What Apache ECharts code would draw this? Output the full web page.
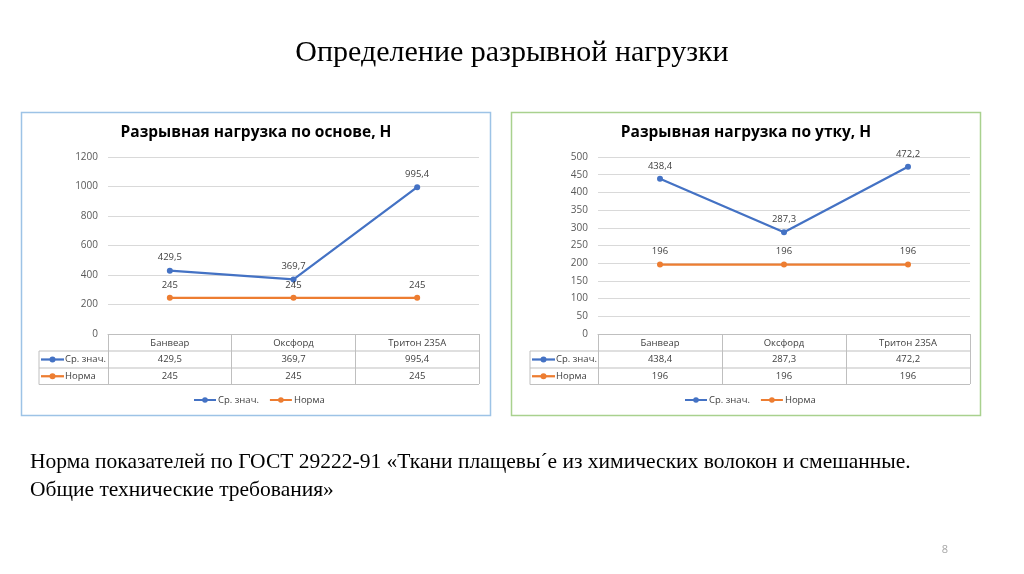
<!DOCTYPE html>
<html><head><meta charset="utf-8">
<script src="https://cdn.jsdelivr.net/npm/echarts@6/dist/echarts.min.js"></script>
<style>html,body{margin:0;padding:0;background:#fff;}#c{width:1024px;height:574px;}</style>
</head><body><div id="c"></div>
<script>
const pageTitle = 'Определение разрывной нагрузки';
const noteLines = ['Норма показателей по ГОСТ 29222-91 «Ткани плащевы´е из химических волокон и смешанные.', 'Общие технические требования»'];
const pageNumber = '8';
const categories = ['Банвеар', 'Оксфорд', 'Тритон 235А'];
const seriesNames = ['Ср. знач.', 'Норма'];
const titleWarp = 'Разрывная нагрузка по основе, Н';
const warpMean = [429.5, 369.7, 995.4];
const warpNorm = [245, 245, 245];
const warpTicks = [0, 200, 400, 600, 800, 1000, 1200];
const titleWeft = 'Разрывная нагрузка по утку, Н';
const weftMean = [438.4, 287.3, 472.2];
const weftNorm = [196, 196, 196];
const weftTicks = [0, 50, 100, 150, 200, 250, 300, 350, 400, 450, 500];

const BLUE = '#4472c4', ORANGE = '#ed7d31';
const FONT = '"Open Sans", sans-serif';
const FS = 9.5;
const fmt = v => String(v).replace('.', ',');
const chart = echarts.init(document.getElementById('c'), null, {renderer: 'canvas'});

const panels = [
  {box: [21.5, 112.5, 469, 303], border: '#9dc3e6', title: titleWarp, grid: {left: 108, right: 545, top: 157, bottom: 240}, ticks: warpTicks, data: [warpMean, warpNorm], tableLeft: 39, legendLeft: 193},
  {box: [511.5, 112.5, 469, 303], border: '#a9d18e', title: titleWeft, grid: {left: 598, right: 54, top: 157, bottom: 240}, ticks: weftTicks, data: [weftMean, weftNorm], tableLeft: 530, legendLeft: 684}
];

function lbl() {
  return {show: true, position: 'top', distance: 5, fontSize: FS, color: '#404040', fontFamily: FONT, formatter: p => fmt(p.value)};
}

const option = {
  animation: false,
  textStyle: {fontFamily: FONT},
  grid: panels.map(p => p.grid),
  xAxis: panels.map((p, i) => ({
    type: 'category', gridIndex: i, data: categories, boundaryGap: true,
    axisLine: {show: true, lineStyle: {color: '#bfbfbf', width: 1}},
    axisTick: {show: true, length: 50, lineStyle: {color: '#bfbfbf', width: 1}},
    axisLabel: {margin: 4, fontSize: FS, color: '#404040', fontFamily: FONT}
  })),
  yAxis: panels.map((p, i) => ({
    type: 'value', gridIndex: i, min: p.ticks[0], max: p.ticks[p.ticks.length - 1],
    interval: p.ticks[1] - p.ticks[0],
    axisLine: {show: false}, axisTick: {show: false},
    axisLabel: {margin: 10, fontSize: 10, color: '#595959', fontFamily: FONT, formatter: v => String(v)},
    splitLine: {lineStyle: {color: '#d9d9d9', width: 1}}
  })),
  legend: panels.map((p, i) => ({
    data: seriesNames, left: p.legendLeft, top: 395, padding: 0, itemWidth: 22, itemHeight: 7, itemGap: 10,
    textStyle: {fontSize: FS, color: '#404040', fontFamily: FONT, padding: [0, 0, 0, -3]}, selectedMode: false
  })),
  series: []
};
panels.forEach((p, i) => {
  p.data.forEach((d, k) => {
    option.series.push({
      name: seriesNames[k], type: 'line', xAxisIndex: i, yAxisIndex: i, data: d,
      symbol: 'circle', symbolSize: 6, color: k === 0 ? BLUE : ORANGE,
      lineStyle: {width: 2.25, color: k === 0 ? BLUE : ORANGE},
      itemStyle: {color: k === 0 ? BLUE : ORANGE},
      label: lbl()
    });
  });
});
chart.setOption(option);

const g = [];
g.push({type: 'text', x: 512, y: 53, style: {text: pageTitle, font: '30px "Liberation Serif", serif', fill: '#000', align: 'center', verticalAlign: 'middle'}});
noteLines.forEach((t, i) => g.push({type: 'text', x: 30, y: 462 + i * 28, style: {text: t, font: '21.5px "Liberation Serif", serif', fill: '#000', verticalAlign: 'middle'}}));
g.push({type: 'text', x: 945, y: 550, style: {text: pageNumber, font: '11px ' + FONT, fill: '#a6a6a6', align: 'center', verticalAlign: 'middle'}});
panels.forEach((p, i) => {
  const [bx, by, bw, bh] = p.box;
  g.push({type: 'rect', shape: {x: bx, y: by, width: bw, height: bh}, style: {fill: 'none', stroke: p.border, lineWidth: 1.5}});
  g.push({type: 'text', x: bx + bw / 2, y: 133, style: {text: p.title, font: 'bold 15.5px ' + FONT, fill: '#000', align: 'center', verticalAlign: 'middle'}});
  const x0 = p.tableLeft, xr = 1024 - p.grid.right;
  const rows = [351, 368, 384.5];
  rows.forEach(y => g.push({type: 'line', shape: {x1: x0, y1: y, x2: xr, y2: y}, style: {stroke: '#bfbfbf', lineWidth: 1}}));
  g.push({type: 'line', shape: {x1: x0, y1: 351, x2: x0, y2: 384.5}, style: {stroke: '#bfbfbf', lineWidth: 1}});
  p.data.forEach((d, k) => {
    const yc = (rows[k] + rows[k + 1]) / 2;
    const col = k === 0 ? BLUE : ORANGE;
    g.push({type: 'line', shape: {x1: x0 + 2, y1: yc, x2: x0 + 25, y2: yc}, style: {stroke: col, lineWidth: 2.25}});
    g.push({type: 'circle', shape: {cx: x0 + 13.5, cy: yc, r: 3}, style: {fill: col}});
    g.push({type: 'text', x: x0 + 26, y: yc, style: {text: seriesNames[k], font: FS + 'px ' + FONT, fill: '#404040', verticalAlign: 'middle'}});
    d.forEach((v, j) => {
      const px = chart.convertToPixel({xAxisIndex: i}, categories[j]);
      g.push({type: 'text', x: px, y: yc, style: {text: fmt(v), font: FS + 'px ' + FONT, fill: '#404040', align: 'center', verticalAlign: 'middle'}});
    });
  });
});
chart.setOption({graphic: g});
</script></body></html>
